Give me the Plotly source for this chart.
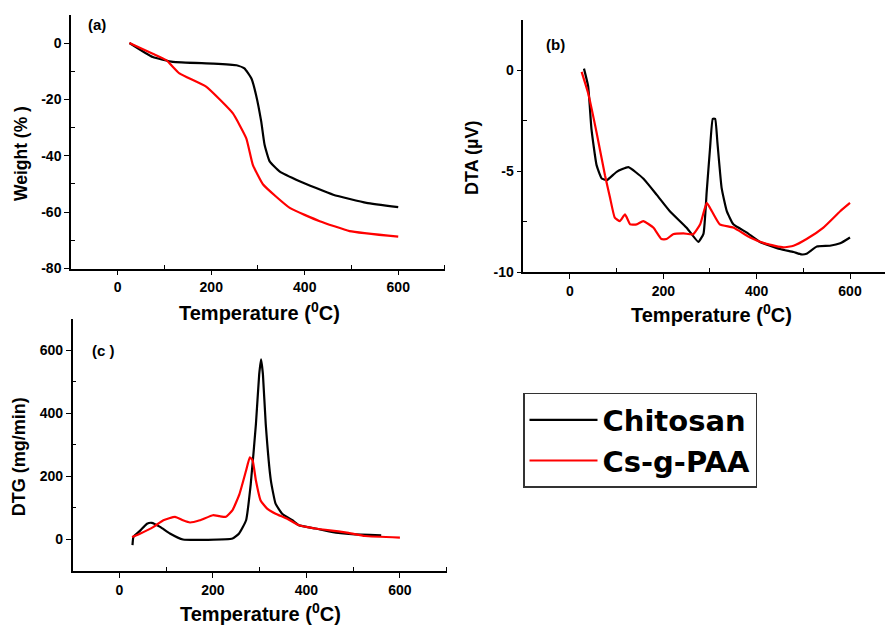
import plotly.graph_objects as go

# ---- Data ----
tga_cs_T = [25, 75, 118, 204, 254, 271, 286, 296, 307, 314, 325, 346, 389, 461, 532, 600]
tga_cs_W = [0, -5, -6.7, -7.3, -7.9, -9, -12.6, -18.5, -27.9, -36, -42, -45.5, -49, -53.8, -56.7, -58.2]
tga_pa_T = [25, 75, 104, 132, 189, 246, 275, 289, 311, 368, 432, 496, 600]
tga_pa_W = [0, -3.8, -6.1, -10.8, -15.5, -24.9, -33.8, -43.2, -50.2, -58.5, -63.2, -66.7, -68.7]

dta_cs_T = [30, 39, 46, 57, 68, 79, 100, 125, 157, 186, 214, 250, 275, 286, 293, 300, 306, 311,
            316, 325, 336, 350, 379, 407, 450, 479, 496, 507, 529, 557, 579, 600]
dta_cs_V = [0.08, -0.8, -2.9, -4.7, -5.36, -5.44, -5.03, -4.8, -5.36, -6.17, -6.98, -7.8, -8.5,
            -8.1, -6.0, -3.9, -2.4, -2.4, -3.6, -5.84, -6.98, -7.63, -8.04, -8.5, -8.85, -9.0,
            -9.12, -9.09, -8.73, -8.69, -8.57, -8.28]
dta_pa_T = [25, 39, 57, 75, 86, 96, 107, 118, 129, 143, 157, 179, 196, 207, 221, 243, 264, 279,
            293, 304, 321, 350, 386, 421, 457, 479, 507, 543, 579, 600]
dta_pa_V = [-0.08, -1.14, -3.08, -5.2, -6.33, -7.3, -7.47, -7.14, -7.63, -7.63, -7.47, -7.8,
            -8.36, -8.36, -8.12, -8.08, -8.12, -7.63, -6.57, -6.98, -7.63, -7.79, -8.28, -8.6,
            -8.77, -8.69, -8.36, -7.79, -6.98, -6.57]

dtg_cs_T = [28, 30, 45, 59, 69, 87, 108, 136, 242, 256, 271, 281, 292, 299, 303, 307, 313, 324,
            334, 348, 370, 384, 419, 454, 497, 560]
dtg_cs_D = [-18, 8, 29, 50, 53, 40, 19, 0, 3, 19, 61, 177, 366, 524, 572, 524, 366, 187, 114,
            82, 61, 45, 35, 24, 17, 13]
dtg_pa_T = [27, 45, 73, 94, 119, 136, 151, 172, 200, 214, 228, 242, 257, 271, 279, 285, 292,
            302, 316, 334, 359, 384, 419, 490, 525, 600]
dtg_pa_D = [8, 19, 40, 61, 72, 61, 54, 61, 77, 74, 72, 93, 145, 219, 261, 251, 187, 124, 98,
            82, 66, 45, 35, 21, 11, 6]

series_names = ["Chitosan", "Cs-g-PAA"]
colors = ["black", "#ff0000"]

x_ticks = [0, 200, 400, 600]
tga_ticks = [0, -20, -40, -60, -80]
dta_ticks = [0, -5, -10]
dtg_ticks = [0, 200, 400, 600]

FONT = "Liberation Sans, Arial, sans-serif"

fig = go.Figure()

panels = [
    ("x", "y", [(tga_cs_T, tga_cs_W), (tga_pa_T, tga_pa_W)], True),
    ("x2", "y2", [(dta_cs_T, dta_cs_V), (dta_pa_T, dta_pa_V)], False),
    ("x3", "y3", [(dtg_cs_T, dtg_cs_D), (dtg_pa_T, dtg_pa_D)], False),
]
for xa, ya, data, show in panels:
    for i, (xs, ys) in enumerate(data):
        fig.add_trace(go.Scatter(x=xs, y=ys, mode="lines", name=series_names[i],
                                 line=dict(color=colors[i], width=2.2, shape="spline", smoothing=0.4),
                                 xaxis=xa, yaxis=ya, showlegend=show, legendgroup=series_names[i]))

def labels(vals):
    return ["<b>%s</b>" % str(v) for v in vals]

def xax(domain, rng, anchor):
    return dict(domain=domain, range=rng, anchor=anchor, showgrid=False, zeroline=False,
                showline=True, linecolor="black", linewidth=1.5, ticks="outside", ticklen=5,
                tickcolor="black", tickwidth=1.2, tickvals=x_ticks, ticktext=labels(x_ticks),
                tickfont=dict(family=FONT, size=14, color="black"),
                minor=dict(ticks="inside", ticklen=4, tickcolor="black", tickvals=[100, 300, 500, 700]))

def yax(domain, rng, anchor, tickvals, minor):
    return dict(domain=domain, range=rng, anchor=anchor, showgrid=False, zeroline=False,
                showline=True, linecolor="black", linewidth=1.5, ticks="outside", ticklen=5,
                tickcolor="black", tickwidth=1.2, tickvals=tickvals, ticktext=labels(tickvals),
                tickfont=dict(family=FONT, size=14, color="black"),
                minor=dict(ticks="inside", ticklen=4, tickcolor="black", tickvals=minor))

fig.update_layout(
    width=885, height=633, margin=dict(l=0, r=0, t=0, b=0),
    paper_bgcolor="white", plot_bgcolor="white",
    xaxis=xax([0.0802, 0.5028], [-100, 700], "y"),
    yaxis=yax([0.5703, 0.9763], [-80, 10], "x", tga_ticks, [-10, -30, -50, -70]),
    xaxis2=xax([0.5913, 1.0], [-100, 675], "y2"),
    yaxis2=yax([0.5645, 0.9684], [-10, 2.5], "x2", dta_ticks, [-2.5, -7.5]),
    xaxis3=xax([0.0821, 0.5047], [-100, 700], "y3"),
    yaxis3=yax([0.0864, 0.4897], [-100, 700], "x3", dtg_ticks, [100, 300, 500]),
    legend=dict(x=523 / 885, y=1 - 398 / 633, xanchor="left", yanchor="top",
                bordercolor="#333333", borderwidth=1.5, bgcolor="white",
                font=dict(family="DejaVu Sans", size=29, color="black", weight="bold"),
                itemwidth=68, tracegroupgap=0),
)

def ann(text, x, y, size, angle=0):
    fig.add_annotation(text="<b>%s</b>" % text, x=x / 885, y=1 - y / 633, xref="paper", yref="paper",
                       showarrow=False, textangle=angle, xanchor="center", yanchor="middle",
                       font=dict(family=FONT, size=size, color="black"))

temp = "Temperature (<sup>0</sup>C)"
ann(temp, 259, 315, 20)
ann(temp, 711, 318, 20)
ann(temp, 260, 620, 20)
ann("Weight (% )", 21, 156, 17.5, -90)
ann("DTA (µV)", 472, 160, 18, -90)
ann("DTG (mg/min)", 19, 463, 18, -90)
ann("(a)", 97, 25, 15)
ann("(b)", 555, 45, 15)
ann("(c )", 103, 355, 15)

fig.write_html("out.html")
